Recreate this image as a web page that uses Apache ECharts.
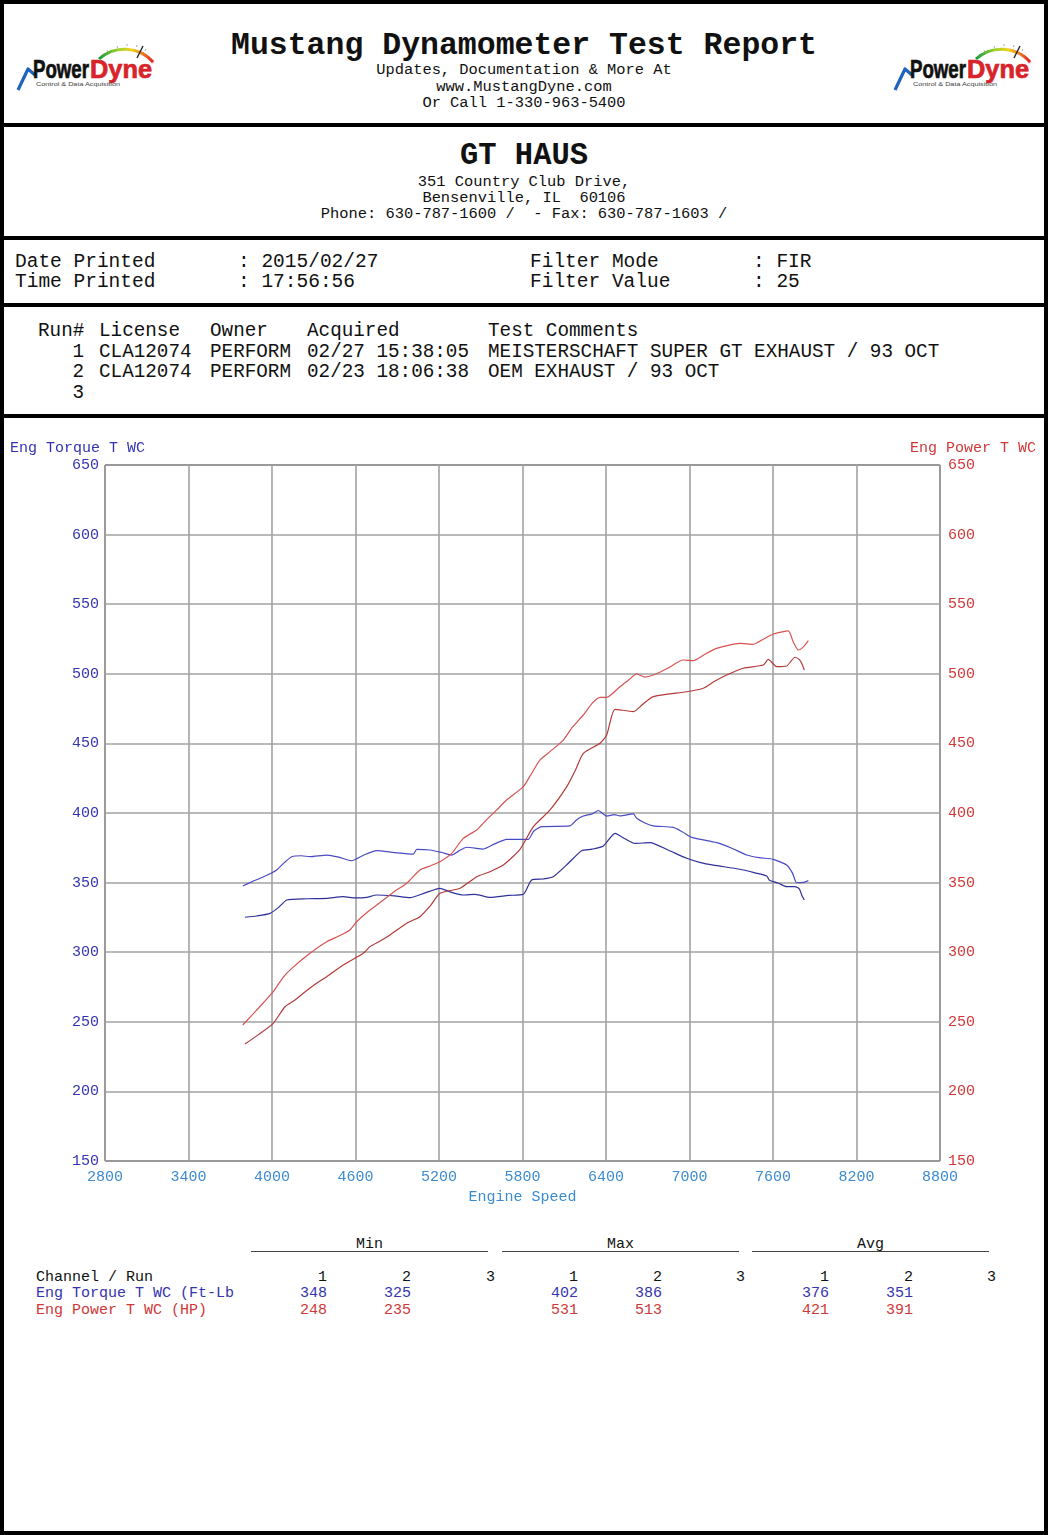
<!DOCTYPE html>
<html>
<head>
<meta charset="utf-8">
<script src="https://cdn.jsdelivr.net/npm/echarts/dist/echarts.min.js"></script>
<style>
  html, body { margin: 0; padding: 0; background: #fff; }
  #page { position: relative; width: 1048px; height: 1535px; box-sizing: border-box; border: 4px solid #000; background: #fff; overflow: hidden; font-family: "Liberation Mono", "DejaVu Sans Mono", monospace; color: #111; }
  .t { position: absolute; white-space: pre; }
  .c { position: absolute; white-space: pre; text-align: center; }
  .r { position: absolute; white-space: pre; text-align: right; }
  .sep { position: absolute; left: 0; width: 1048px; height: 4px; background: #000; }
  .ul { position: absolute; height: 1px; background: #444; }
  #chart { position: absolute; left: -4px; top: 416px; width: 1048px; height: 800px; }
  .blue { color: #3434b0; }
  .red { color: #d03838; }
</style>
</head>
<body>
<div id="page">
  <!-- logos -->
  <svg id="logoL" style="position:absolute;left:10px;top:34px" width="142" height="56" viewBox="0 0 142 56"></svg>
  <svg id="logoR" style="position:absolute;left:887px;top:34px" width="142" height="56" viewBox="0 0 142 56"></svg>

  <div class="c" style="left:0;width:1040px;top:25px;font-size:31.5px;font-weight:bold;line-height:34px;">Mustang Dynamometer Test Report</div>
  <div class="c" style="left:0;width:1040px;top:58px;font-size:15.4px;line-height:16px;">Updates, Documentation &amp; More At</div>
  <div class="c" style="left:0;width:1040px;top:75px;font-size:15.4px;line-height:16px;">www.MustangDyne.com</div>
  <div class="c" style="left:0;width:1040px;top:91px;font-size:15.4px;line-height:16px;">Or Call 1-330-963-5400</div>
  <div class="sep" style="left:-4px;top:119px;"></div>

  <div class="c" style="left:0;width:1040px;top:136px;font-size:30.5px;font-weight:bold;line-height:32px;">GT HAUS</div>
  <div class="c" style="left:0;width:1040px;top:170px;font-size:15.4px;line-height:16px;">351 Country Club Drive,</div>
  <div class="c" style="left:0;width:1040px;top:186px;font-size:15.4px;line-height:16px;">Bensenville, IL  60106</div>
  <div class="c" style="left:0;width:1040px;top:202px;font-size:15.4px;line-height:16px;">Phone: 630-787-1600 /  - Fax: 630-787-1603 /</div>
  <div class="sep" style="left:-4px;top:232px;"></div>

  <div class="t" style="left:11px;top:248px;font-size:19.5px;line-height:20px;">Date Printed</div>
  <div class="t" style="left:11px;top:268px;font-size:19.5px;line-height:20px;">Time Printed</div>
  <div class="t" style="left:234px;top:248px;font-size:19.5px;line-height:20px;">: 2015/02/27</div>
  <div class="t" style="left:234px;top:268px;font-size:19.5px;line-height:20px;">: 17:56:56</div>
  <div class="t" style="left:526px;top:248px;font-size:19.5px;line-height:20px;">Filter Mode</div>
  <div class="t" style="left:526px;top:268px;font-size:19.5px;line-height:20px;">Filter Value</div>
  <div class="t" style="left:749px;top:248px;font-size:19.5px;line-height:20px;">: FIR</div>
  <div class="t" style="left:749px;top:268px;font-size:19.5px;line-height:20px;">: 25</div>
  <div class="sep" style="left:-4px;top:299px;"></div>

  <div id="runs"></div>
  <div class="sep" style="left:-4px;top:410px;"></div>

  <div id="chart"></div>

  <div id="stats"></div>
</div>

<script>
// ---------------- DATA ----------------
const xTicks = [2800, 3400, 4000, 4600, 5200, 5800, 6400, 7000, 7600, 8200, 8800];
const yTicks = [150, 200, 250, 300, 350, 400, 450, 500, 550, 600, 650];

// Run 1 (MEISTERSCHAFT SUPER GT EXHAUST) - Engine torque (ft-lb)
const run1TorqueRpm = [3790, 3860, 3940, 4034, 4090, 4142, 4210, 4273, 4393, 4480, 4573, 4660, 4752, 4880, 5015, 5040, 5135, 5220, 5291, 5340, 5399, 5518, 5600, 5686, 5842, 5880, 5938, 6141, 6190, 6237, 6300, 6345, 6405, 6460, 6500, 6596, 6621, 6680, 6740, 6884, 6950, 7016, 7195, 7300, 7411, 7500, 7602, 7698, 7740, 7770, 7820, 7854];
const run1Torque    = [347.6, 350.8, 354.2, 359.1, 364.5, 368.6, 369.3, 368.6, 369.8, 368.3, 365.7, 369.8, 372.9, 371.6, 370.5, 373.9, 373.4, 371.6, 369.8, 372.6, 375.4, 374.1, 377.8, 381.1, 381.1, 386.9, 390.2, 390.7, 395.2, 397.8, 399.4, 401.8, 397.8, 398.8, 398.0, 399.3, 396.2, 392.8, 390.7, 389.7, 386.4, 382.5, 378.7, 374.9, 369.8, 367.9, 366.7, 362.6, 356.8, 349.9, 350.2, 351.4];
// Run 1 - Engine power (HP)
const run1PowerRpm = [3790, 3900, 4009, 4080, 4142, 4273, 4393, 4480, 4560, 4609, 4700, 4800, 4880, 4968, 5063, 5140, 5207, 5291, 5375, 5471, 5540, 5615, 5686, 5806, 5860, 5926, 6000, 6093, 6160, 6237, 6300, 6357, 6405, 6500, 6560, 6621, 6680, 6740, 6840, 6955, 7027, 7110, 7195, 7363, 7458, 7530, 7602, 7710, 7745, 7782, 7820, 7854];
const run1Power    = [247.7, 259.5, 271.6, 282.0, 288.4, 299.2, 307.5, 311.6, 316.0, 321.9, 329.9, 337.5, 343.6, 349.5, 359.1, 362.1, 365.0, 371.0, 381.8, 387.8, 394.9, 402.2, 409.3, 418.9, 427.5, 438.1, 444.3, 452.4, 461.8, 470.4, 478.8, 483.1, 483.1, 490.7, 495.4, 499.9, 497.6, 499.1, 503.8, 509.9, 509.4, 514.0, 518.3, 521.9, 521.2, 524.8, 528.6, 530.8, 523.0, 517.1, 519.5, 523.8];

// Run 2 (OEM EXHAUST) - Engine torque (ft-lb)
const run2TorqueRpm = [3806, 3890, 3986, 4050, 4106, 4250, 4393, 4512, 4600, 4680, 4752, 4880, 4992, 5100, 5207, 5290, 5375, 5460, 5566, 5700, 5806, 5866, 5950, 6021, 6120, 6225, 6300, 6381, 6465, 6540, 6608, 6716, 6850, 6980, 7080, 7171, 7363, 7470, 7555, 7573, 7640, 7698, 7758, 7790, 7806, 7825];
const run2Torque    = [325.1, 326.0, 327.9, 332.4, 337.5, 338.4, 338.7, 339.9, 339.0, 339.4, 341.1, 340.4, 339.2, 342.6, 345.9, 343.0, 341.1, 341.6, 339.4, 340.8, 341.6, 351.9, 352.6, 354.2, 363.0, 372.9, 374.0, 376.3, 385.4, 381.3, 378.2, 378.7, 373.2, 367.5, 364.4, 362.6, 359.6, 357.0, 354.7, 351.9, 349.5, 347.1, 347.1, 345.4, 341.1, 337.5];
// Run 2 - Engine power (HP)
const run2PowerRpm = [3806, 3900, 4009, 4093, 4160, 4225, 4300, 4393, 4512, 4656, 4704, 4780, 4848, 4968, 5063, 5140, 5207, 5351, 5471, 5570, 5662, 5782, 5878, 5998, 6118, 6180, 6237, 6357, 6405, 6465, 6596, 6660, 6740, 6980, 7099, 7180, 7267, 7387, 7530, 7566, 7627, 7698, 7758, 7790, 7806, 7825];
const run2Power    = [234.0, 240.6, 248.9, 260.8, 265.3, 270.5, 276.2, 282.4, 290.8, 299.2, 304.0, 308.2, 312.4, 320.8, 325.5, 333.6, 342.3, 345.9, 354.2, 358.0, 362.6, 373.9, 390.2, 402.2, 418.9, 430.7, 442.9, 450.1, 456.0, 474.5, 472.8, 477.7, 483.6, 487.1, 489.6, 494.6, 499.1, 504.0, 506.3, 510.4, 505.1, 505.6, 511.9, 510.2, 507.5, 502.7];

// Run table
const runNumbers  = ["1", "2", "3"];
const runLicense  = ["CLA12074", "CLA12074", ""];
const runOwner    = ["PERFORM", "PERFORM", ""];
const runAcquired = ["02/27 15:38:05", "02/23 18:06:38", ""];
const runComments = ["MEISTERSCHAFT SUPER GT EXHAUST / 93 OCT", "OEM EXHAUST / 93 OCT", ""];

// Stats table
const statGroups   = ["Min", "Max", "Avg"];
const statChannels = ["Eng Torque T WC (Ft-Lb", "Eng Power T WC (HP)"];
const statTorque   = [["348", "325", ""], ["402", "386", ""], ["376", "351", ""]];
const statPower    = [["248", "235", ""], ["531", "513", ""], ["421", "391", ""]];

// ---------------- LOGOS ----------------
function logoSvg(id) {
  return `
  <defs>
    <linearGradient id="g${id}" x1="0" y1="0" x2="1" y2="0">
      <stop offset="0" stop-color="#1a9a3a"/>
      <stop offset="0.35" stop-color="#9ad02a"/>
      <stop offset="0.6" stop-color="#f2d21a"/>
      <stop offset="0.8" stop-color="#f08020"/>
      <stop offset="1" stop-color="#e0202a"/>
    </linearGradient>
  </defs>
  <path d="M85,21 A38,38 0 0 1 139,24" fill="none" stroke="url(#g${id})" stroke-width="3"/>
  <path d="M93,12 l1,2 M103,8 l0.5,2 M113,6 l0,2 M123,7 l-0.5,2 M132,11 l-1,2" stroke="#999" stroke-width="0.8"/>
  <line x1="123" y1="20" x2="129" y2="8" stroke="#222" stroke-width="1.4"/>
  <polyline points="4,52 14,31 21,37" fill="none" stroke="#1f63c0" stroke-width="3.2" stroke-linejoin="round"/>
  <text x="19" y="40" font-family="Liberation Sans, Arial, sans-serif" font-weight="bold" font-size="25" textLength="56" lengthAdjust="spacingAndGlyphs" fill="#111" stroke="#111" stroke-width="0.7">Power</text>
  <text x="76" y="40" font-family="Liberation Sans, Arial, sans-serif" font-weight="bold" font-size="25" textLength="62" lengthAdjust="spacingAndGlyphs" fill="#d8232a" stroke="#d8232a" stroke-width="0.7">Dyne</text>
  <text x="137" y="26" font-family="Liberation Sans, Arial, sans-serif" font-size="4" fill="#d8232a">®</text>
  <text x="22" y="48" font-family="Liberation Sans, Arial, sans-serif" font-size="5" textLength="84" lengthAdjust="spacingAndGlyphs" fill="#444">Control &amp; Data Acquisition</text>`;
}
document.getElementById('logoL').innerHTML = logoSvg('L');
document.getElementById('logoR').innerHTML = logoSvg('R');

// ---------------- RUN TABLE ----------------
(function () {
  const fs = 19.3;
  let html = '';
  const hdrTop = 317;
  const rowH = 20.7;
  const headers = [["Run#", 34], ["License", 95], ["Owner", 206], ["Acquired", 303], ["Test Comments", 484]];
  headers.forEach(h => { html += `<div class="t" style="left:${h[1]}px;top:${hdrTop}px;font-size:${fs}px;line-height:20px;">${h[0]}</div>`; });
  for (let i = 0; i < runNumbers.length; i++) {
    const top = hdrTop + rowH * (i + 1);
    html += `<div class="r" style="left:20px;width:60px;top:${top}px;font-size:${fs}px;line-height:20px;">${runNumbers[i]}</div>`;
    html += `<div class="t" style="left:95px;top:${top}px;font-size:${fs}px;line-height:20px;">${runLicense[i]}</div>`;
    html += `<div class="t" style="left:206px;top:${top}px;font-size:${fs}px;line-height:20px;">${runOwner[i]}</div>`;
    html += `<div class="t" style="left:303px;top:${top}px;font-size:${fs}px;line-height:20px;">${runAcquired[i]}</div>`;
    html += `<div class="t" style="left:484px;top:${top}px;font-size:${fs}px;line-height:20px;">${runComments[i]}</div>`;
  }
  document.getElementById('runs').innerHTML = html;
})();

// ---------------- STATS TABLE ----------------
(function () {
  const fs = 15;
  let html = '';
  const groupLeft = [247, 498, 748];
  const groupW = 237;
  statGroups.forEach((g, gi) => {
    html += `<div class="c" style="left:${groupLeft[gi]}px;width:${groupW}px;top:1233px;font-size:${fs}px;line-height:16px;">${g}</div>`;
    html += `<div class="ul" style="left:${groupLeft[gi]}px;width:${groupW}px;top:1247px;"></div>`;
  });
  const colRight = [[323, 407, 491], [574, 658, 741], [825, 909, 992]];
  const rowTop = [1266, 1282, 1299];
  html += `<div class="t" style="left:32px;top:${rowTop[0]}px;font-size:${fs}px;line-height:16px;">Channel / Run</div>`;
  html += `<div class="t blue" style="left:32px;top:${rowTop[1]}px;font-size:${fs}px;line-height:16px;">${statChannels[0]}</div>`;
  html += `<div class="t red" style="left:32px;top:${rowTop[2]}px;font-size:${fs}px;line-height:16px;">${statChannels[1]}</div>`;
  for (let g = 0; g < 3; g++) {
    for (let r = 0; r < 3; r++) {
      const right = colRight[g][r];
      html += `<div class="r" style="left:${right - 60}px;width:60px;top:${rowTop[0]}px;font-size:${fs}px;line-height:16px;">${runNumbers[r]}</div>`;
      html += `<div class="r blue" style="left:${right - 60}px;width:60px;top:${rowTop[1]}px;font-size:${fs}px;line-height:16px;">${statTorque[g][r]}</div>`;
      html += `<div class="r red" style="left:${right - 60}px;width:60px;top:${rowTop[2]}px;font-size:${fs}px;line-height:16px;">${statPower[g][r]}</div>`;
    }
  }
  document.getElementById('stats').innerHTML = html;
})();

// ---------------- CHART ----------------
const pairs = (xs, ys) => xs.map((x, i) => [x, ys[i]]);
const chart = echarts.init(document.getElementById('chart'), null, { renderer: 'canvas' });
const font = 'Liberation Mono';
const blueLbl = '#3434b0', redLbl = '#d03838', xLbl = '#3b8bd0';
const splitStyle = { show: true, lineStyle: { color: '#a2a2a2', width: 1.6 } };
const plain = v => String(v);

chart.setOption({
  animation: false,
  backgroundColor: 'transparent',
  grid: { left: 105, top: 45, width: 835, height: 696, show: true, borderColor: '#000', borderWidth: 1, backgroundColor: 'transparent' },
  xAxis: {
    type: 'value', min: xTicks[0], max: xTicks[xTicks.length - 1], interval: 600,
    axisLine: { show: false }, axisTick: { show: false },
    axisLabel: { color: xLbl, fontFamily: font, fontSize: 15, margin: 9, formatter: plain, showMinLabel: true, showMaxLabel: true },
    splitLine: splitStyle,
    name: 'Engine Speed', nameLocation: 'middle', nameGap: 25,
    nameTextStyle: { color: xLbl, fontFamily: font, fontSize: 15 }
  },
  yAxis: [
    {
      type: 'value', min: yTicks[0], max: yTicks[yTicks.length - 1], interval: 50, position: 'left',
      axisLine: { show: false }, axisTick: { show: false },
      axisLabel: { color: blueLbl, fontFamily: font, fontSize: 15, margin: 6, formatter: plain },
      splitLine: splitStyle
    },
    {
      type: 'value', min: yTicks[0], max: yTicks[yTicks.length - 1], interval: 50, position: 'right',
      axisLine: { show: false }, axisTick: { show: false },
      axisLabel: { color: redLbl, fontFamily: font, fontSize: 15, margin: 8, formatter: plain },
      splitLine: { show: false }
    }
  ],
  graphic: [
    { type: 'text', left: 10, top: 21, style: { text: 'Eng Torque T WC', fill: blueLbl, font: '15px "Liberation Mono"' } },
    { type: 'text', right: 12, top: 21, style: { text: 'Eng Power T WC', fill: redLbl, font: '15px "Liberation Mono"' } }
  ],
  series: [
    { name: 'Run 1 Torque', type: 'line', yAxisIndex: 0, data: pairs(run1TorqueRpm, run1Torque), showSymbol: false, smooth: 0.2, lineStyle: { color: '#4a4ac4', width: 1.2 }, z: 3 },
    { name: 'Run 2 Torque', type: 'line', yAxisIndex: 0, data: pairs(run2TorqueRpm, run2Torque), showSymbol: false, smooth: 0.2, lineStyle: { color: '#30309a', width: 1.2 }, z: 3 },
    { name: 'Run 1 Power', type: 'line', yAxisIndex: 1, data: pairs(run1PowerRpm, run1Power), showSymbol: false, smooth: 0.2, lineStyle: { color: '#d85252', width: 1.2 }, z: 3 },
    { name: 'Run 2 Power', type: 'line', yAxisIndex: 1, data: pairs(run2PowerRpm, run2Power), showSymbol: false, smooth: 0.2, lineStyle: { color: '#b43a3a', width: 1.2 }, z: 3 }
  ]
});
</script>
</body>
</html>
